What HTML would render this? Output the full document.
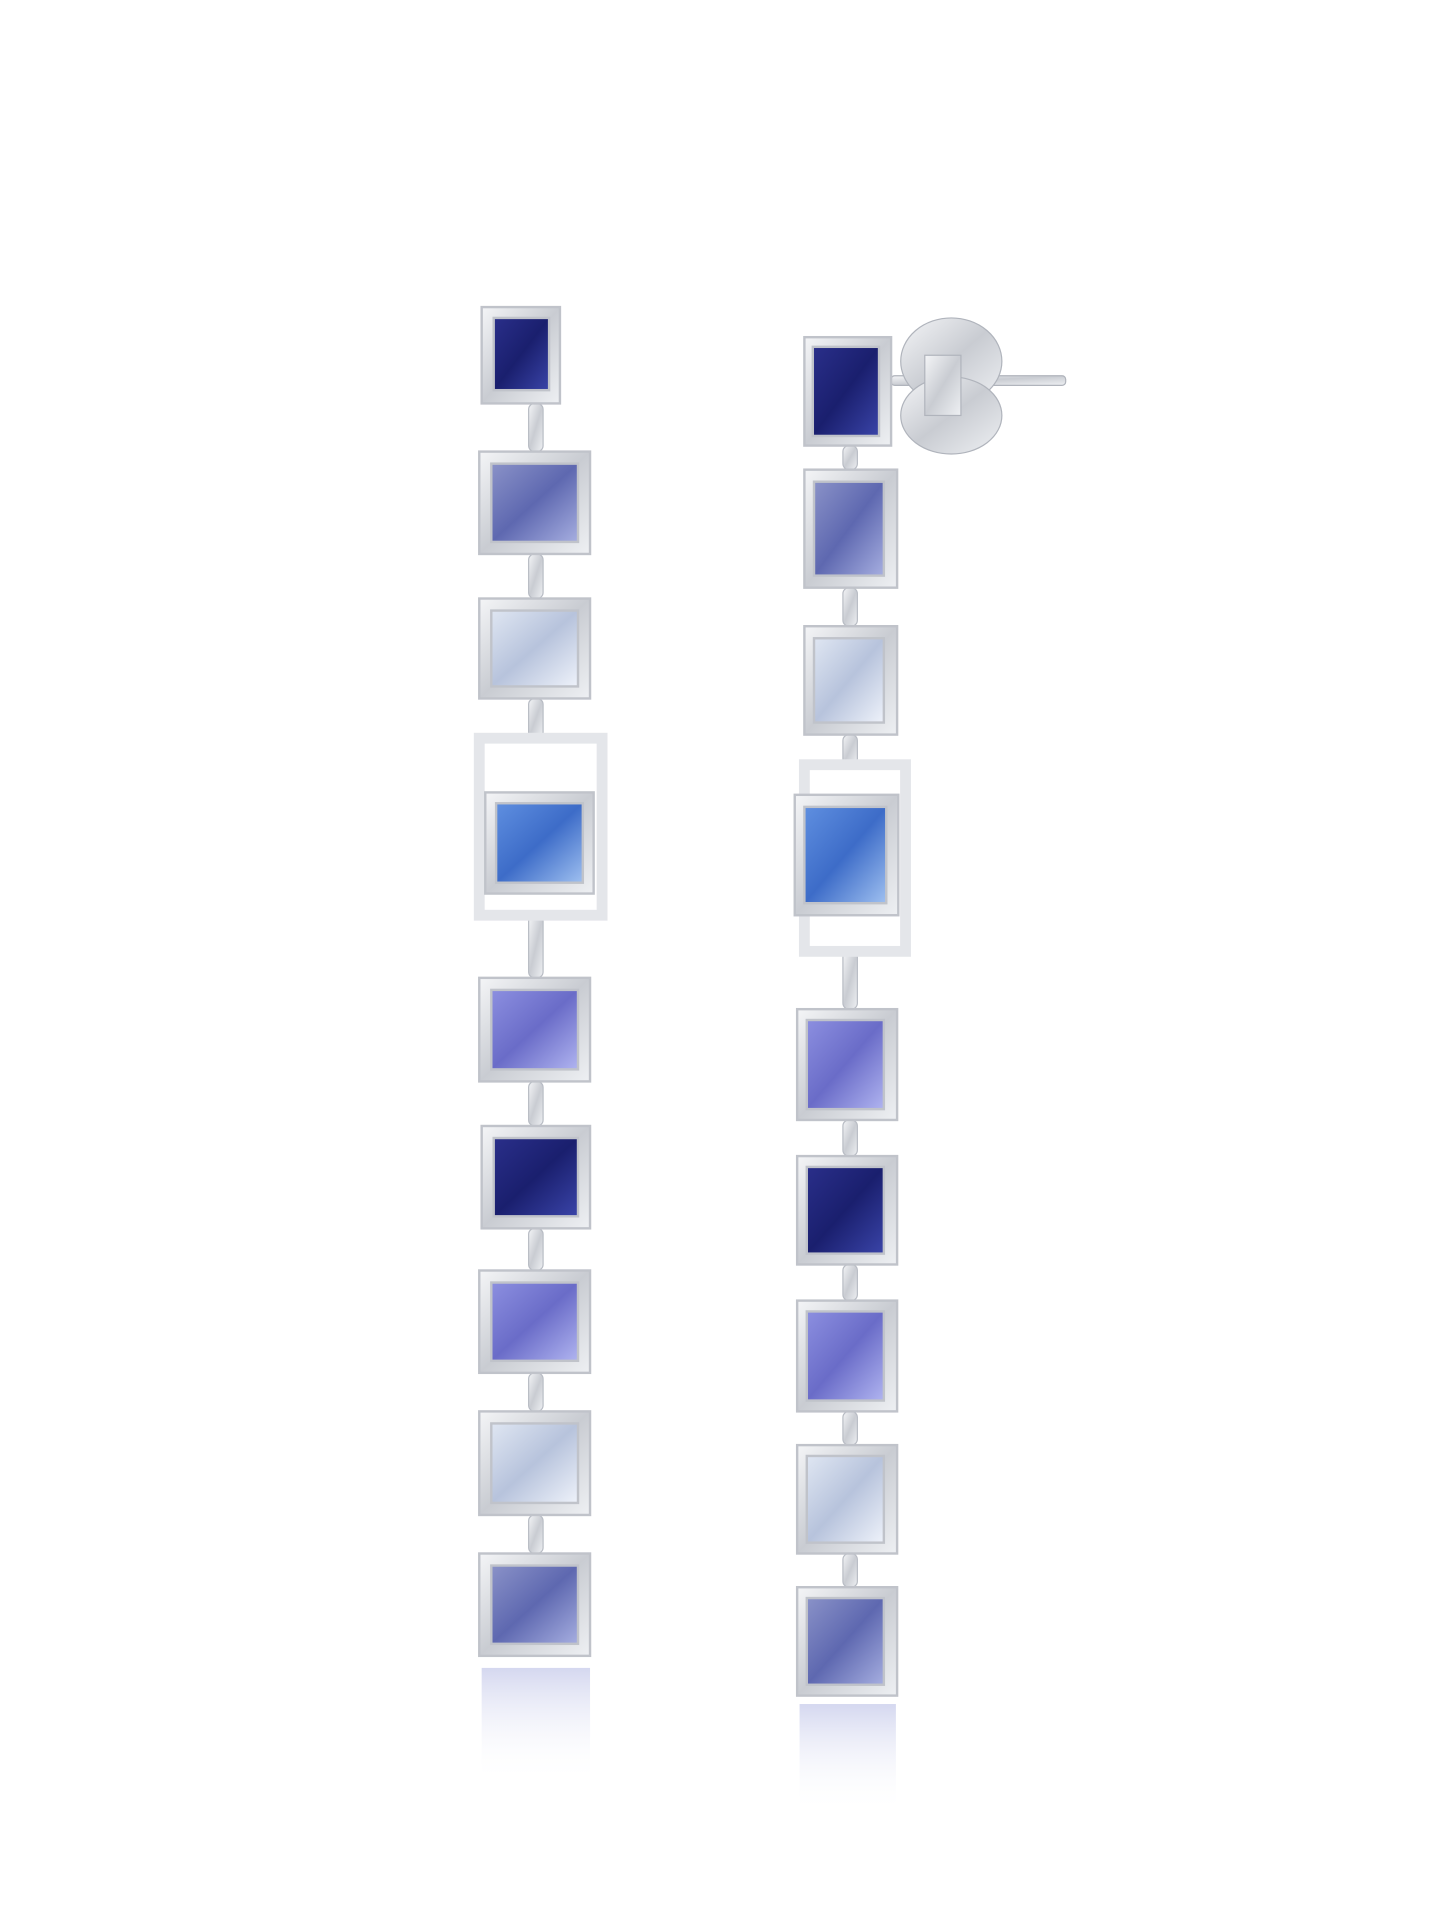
<!DOCTYPE html>
<html><head><meta charset="utf-8"><style>
html,body{margin:0;padding:0;background:#fff;}
svg{display:block}
</style></head><body>
<svg width="1445" height="1922" viewBox="0 0 1200 1596" preserveAspectRatio="none" xmlns="http://www.w3.org/2000/svg">
<defs>
<linearGradient id="silver" x1="0" y1="0" x2="1" y2="1">
<stop offset="0" stop-color="#f4f5f7"/><stop offset="0.5" stop-color="#c9ccd2"/><stop offset="1" stop-color="#eef0f3"/></linearGradient>
<linearGradient id="navy" x1="0" y1="0" x2="1" y2="1"><stop offset="0" stop-color="#2a2f8a"/><stop offset="0.5" stop-color="#1a1f6e"/><stop offset="1" stop-color="#3a44a8"/></linearGradient>
<linearGradient id="peri" x1="0" y1="0" x2="1" y2="1"><stop offset="0" stop-color="#8a92c8"/><stop offset="0.5" stop-color="#5e68b0"/><stop offset="1" stop-color="#a6aee0"/></linearGradient>
<linearGradient id="pale" x1="0" y1="0" x2="1" y2="1"><stop offset="0" stop-color="#dfe6f2"/><stop offset="0.5" stop-color="#b7c3dc"/><stop offset="1" stop-color="#eef2fa"/></linearGradient>
<linearGradient id="blue" x1="0" y1="0" x2="1" y2="1"><stop offset="0" stop-color="#5f8fe0"/><stop offset="0.5" stop-color="#3d6cc8"/><stop offset="1" stop-color="#9fc0f0"/></linearGradient>
<linearGradient id="lav" x1="0" y1="0" x2="1" y2="1"><stop offset="0" stop-color="#8c8fe0"/><stop offset="0.5" stop-color="#6a6cc8"/><stop offset="1" stop-color="#b0b4f0"/></linearGradient>
<linearGradient id="refl" x1="0" y1="0" x2="0" y2="1"><stop offset="0" stop-color="#aab0e0" stop-opacity="0.5"/><stop offset="1" stop-color="#ffffff" stop-opacity="0"/></linearGradient>
</defs>
<g stroke="#b8bcc4" stroke-width="1">
<rect x="439" y="335" width="12" height="40" rx="5" fill="url(#silver)"/>
<rect x="439" y="460" width="12" height="37" rx="5" fill="url(#silver)"/>
<rect x="439" y="580" width="12" height="33" rx="5" fill="url(#silver)"/>
<rect x="439" y="760" width="12" height="52" rx="5" fill="url(#silver)"/>
<rect x="439" y="898" width="12" height="37" rx="5" fill="url(#silver)"/>
<rect x="439" y="1020" width="12" height="35" rx="5" fill="url(#silver)"/>
<rect x="439" y="1140" width="12" height="32" rx="5" fill="url(#silver)"/>
<rect x="439" y="1258" width="12" height="32" rx="5" fill="url(#silver)"/>
<rect x="700" y="370" width="12" height="20" rx="5" fill="url(#silver)"/>
<rect x="700" y="488" width="12" height="32" rx="5" fill="url(#silver)"/>
<rect x="700" y="610" width="12" height="25" rx="5" fill="url(#silver)"/>
<rect x="700" y="790" width="12" height="48" rx="5" fill="url(#silver)"/>
<rect x="700" y="930" width="12" height="30" rx="5" fill="url(#silver)"/>
<rect x="700" y="1050" width="12" height="30" rx="5" fill="url(#silver)"/>
<rect x="700" y="1172" width="12" height="28" rx="5" fill="url(#silver)"/>
<rect x="700" y="1290" width="12" height="28" rx="5" fill="url(#silver)"/>
</g>
<g fill="url(#silver)" stroke="#b0b4bc">
<rect x="740" y="312" width="145" height="8" rx="3"/>
<ellipse cx="790" cy="300" rx="42" ry="36"/>
<ellipse cx="790" cy="345" rx="42" ry="32"/>
<rect x="768" y="295" width="30" height="50"/>
</g>
<g stroke="#c0c3ca" stroke-width="2">
<rect x="400" y="255" width="65" height="80" fill="url(#silver)"/><rect x="410" y="264" width="46" height="60" fill="url(#navy)"/>
<rect x="398" y="375" width="92" height="85" fill="url(#silver)"/><rect x="408" y="385" width="72" height="65" fill="url(#peri)"/>
<rect x="398" y="497" width="92" height="83" fill="url(#silver)"/><rect x="408" y="507" width="72" height="63" fill="url(#pale)"/>
<rect x="398" y="613" width="102" height="147" fill="none" stroke-width="9" stroke="#e4e6ea"/>
<rect x="403" y="658" width="90" height="84" fill="url(#silver)"/><rect x="412" y="667" width="72" height="66" fill="url(#blue)"/>
<rect x="398" y="812" width="92" height="86" fill="url(#silver)"/><rect x="408" y="822" width="72" height="66" fill="url(#lav)"/>
<rect x="400" y="935" width="90" height="85" fill="url(#silver)"/><rect x="410" y="945" width="70" height="65" fill="url(#navy)"/>
<rect x="398" y="1055" width="92" height="85" fill="url(#silver)"/><rect x="408" y="1065" width="72" height="65" fill="url(#lav)"/>
<rect x="398" y="1172" width="92" height="86" fill="url(#silver)"/><rect x="408" y="1182" width="72" height="66" fill="url(#pale)"/>
<rect x="398" y="1290" width="92" height="85" fill="url(#silver)"/><rect x="408" y="1300" width="72" height="65" fill="url(#peri)"/>
<rect x="668" y="280" width="72" height="90" fill="url(#silver)"/><rect x="675" y="288" width="55" height="74" fill="url(#navy)"/>
<rect x="668" y="390" width="77" height="98" fill="url(#silver)"/><rect x="676" y="400" width="58" height="78" fill="url(#peri)"/>
<rect x="668" y="520" width="77" height="90" fill="url(#silver)"/><rect x="676" y="530" width="58" height="70" fill="url(#pale)"/>
<rect x="668" y="635" width="84" height="155" fill="none" stroke-width="9" stroke="#e4e6ea"/>
<rect x="660" y="660" width="86" height="100" fill="url(#silver)"/><rect x="668" y="670" width="68" height="80" fill="url(#blue)"/>
<rect x="662" y="838" width="83" height="92" fill="url(#silver)"/><rect x="670" y="847" width="64" height="74" fill="url(#lav)"/>
<rect x="662" y="960" width="83" height="90" fill="url(#silver)"/><rect x="670" y="969" width="64" height="72" fill="url(#navy)"/>
<rect x="662" y="1080" width="83" height="92" fill="url(#silver)"/><rect x="670" y="1089" width="64" height="74" fill="url(#lav)"/>
<rect x="662" y="1200" width="83" height="90" fill="url(#silver)"/><rect x="670" y="1209" width="64" height="72" fill="url(#pale)"/>
<rect x="662" y="1318" width="83" height="90" fill="url(#silver)"/><rect x="670" y="1327" width="64" height="72" fill="url(#peri)"/>
</g>
<rect x="400" y="1385" width="90" height="95" fill="url(#refl)"/>
<rect x="664" y="1415" width="80" height="90" fill="url(#refl)"/>
</svg>
</body></html>
